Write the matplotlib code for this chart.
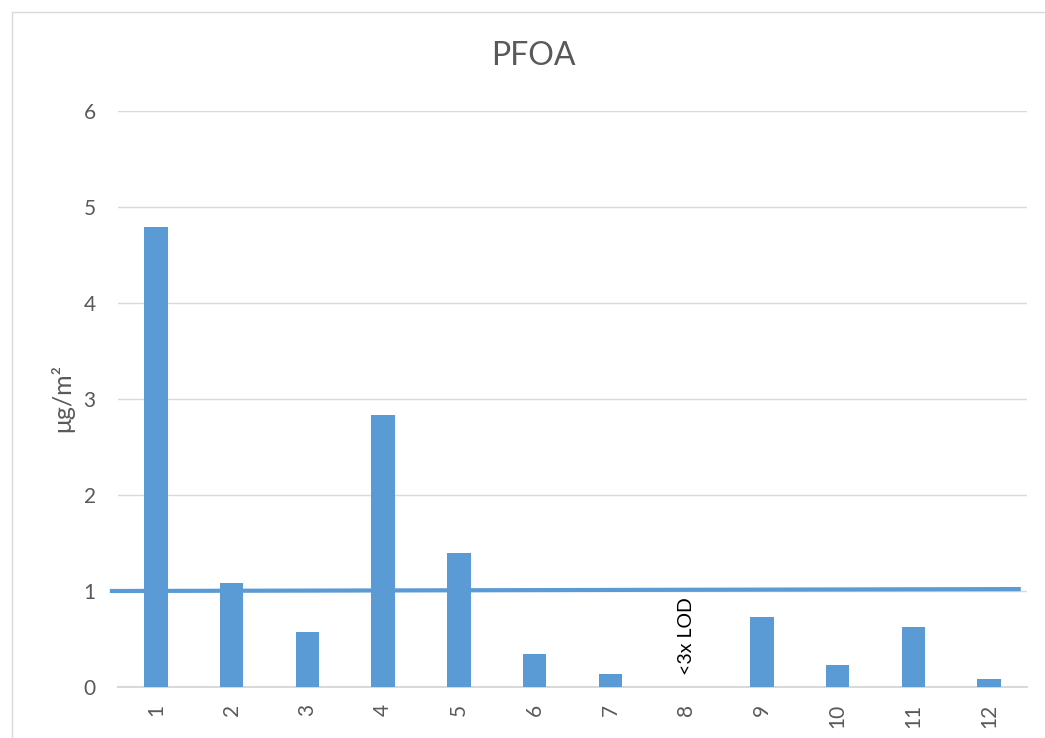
import matplotlib.pyplot as plt
from matplotlib.patches import Rectangle

samples = [str(i) for i in range(1, 13)]
pfoa = [4.79, 1.08, 0.57, 2.83, 1.40, 0.34, 0.14, 0.0, 0.73, 0.23, 0.625, 0.08]
limit_x = [0.42, 12.39]
limit_y = [1.0, 1.02]
bar_color = '#5b9bd5'
grey = '#595959'

plt.rcParams['font.family'] = ['Lato', 'DejaVu Sans']

fig = plt.figure(figsize=(10.45, 7.38), dpi=100)
fig.patches.append(Rectangle((12 / 1045, -0.1), 1.2, 1 - 12 / 738 + 0.1,
                             transform=fig.transFigure, fill=False,
                             edgecolor='#d9d9d9', linewidth=1))
ax = fig.add_axes([0.1129, 0.0691, 0.8699, 0.7805])

x = list(range(1, 13))
ax.bar(x, pfoa, width=0.31, color=bar_color, zorder=3)
ax.plot(limit_x, limit_y, color=bar_color, linewidth=3, zorder=4, clip_on=False)
ax.text(8, 0.12, '<3x LOD', rotation=90, ha='center', va='bottom',
        fontsize=14, color='black')

ax.set_xlim(0.5, 12.5)
ax.set_ylim(0, 6)
ax.set_xticks(x)
ax.set_xticklabels(samples, rotation=90)
ax.set_yticks(range(0, 7))
ax.grid(axis='y', color='#d9d9d9', linewidth=1, zorder=0)
for s in ['top', 'right', 'left']:
    ax.spines[s].set_visible(False)
ax.spines['bottom'].set_color('#d9d9d9')
ax.spines['bottom'].set_linewidth(1.5)
ax.tick_params(axis='both', length=0, labelsize=15, colors=grey)
ax.tick_params(axis='y', pad=16)
ax.tick_params(axis='x', pad=12)

fig.text(62 / 1045, 1 - 398 / 738, 'μg/m²', rotation=90, fontsize=18,
         color=grey, ha='center', va='center')
fig.text(533 / 1045, 1 - 56 / 738, 'PFOA', fontsize=23, color=grey,
         ha='center', va='center')

fig.savefig('out.png', dpi=100)
